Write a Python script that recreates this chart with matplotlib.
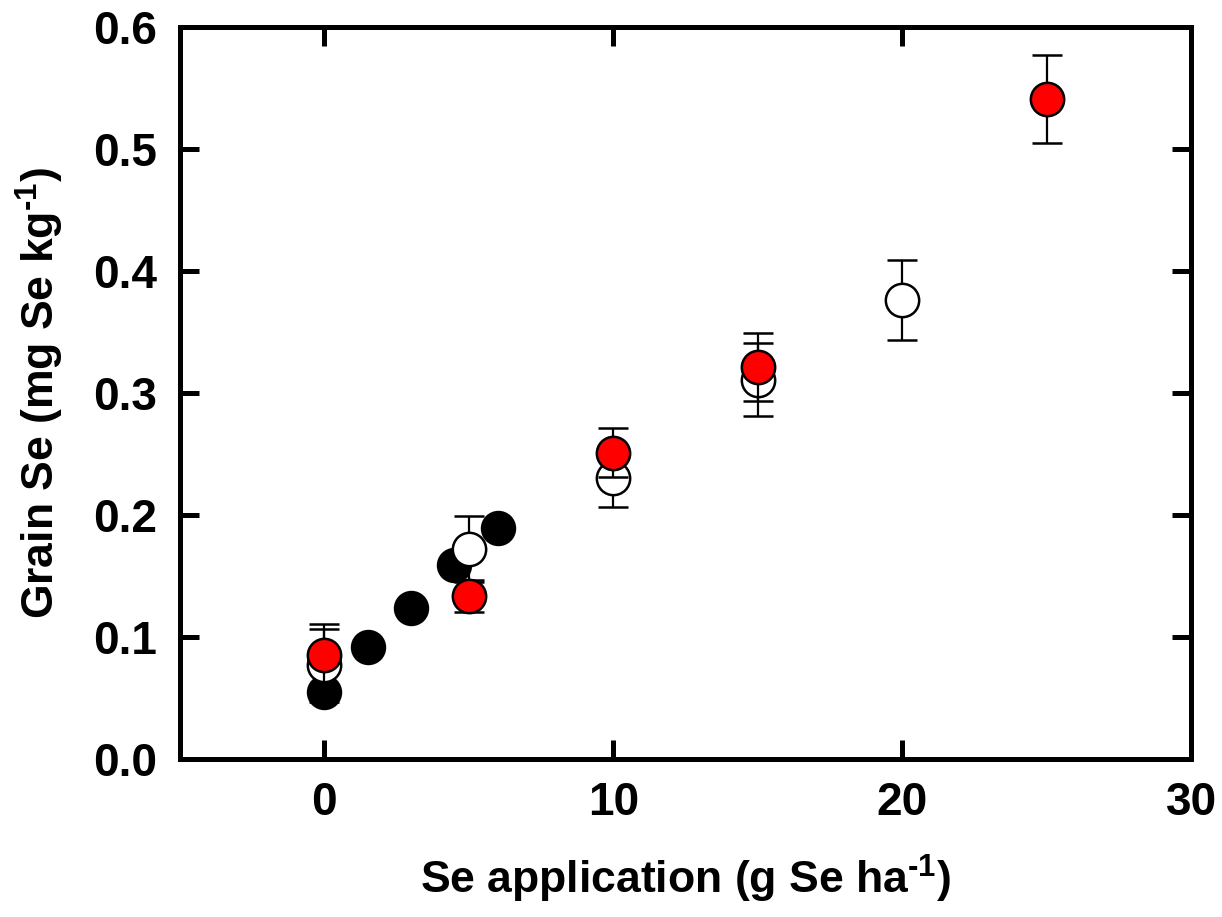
import matplotlib
matplotlib.use('Agg')
import matplotlib.pyplot as plt

plt.rcParams['font.family'] = ['Liberation Sans', 'DejaVu Sans']
plt.rcParams['font.weight'] = 'bold'
plt.rcParams['mathtext.fontset'] = 'custom'
plt.rcParams['mathtext.rm'] = 'Liberation Sans:bold'
plt.rcParams['mathtext.bf'] = 'Liberation Sans:bold'
plt.rcParams['mathtext.default'] = 'bf'

# black filled circles (no error bars)
x_black = [0, 1.5, 3, 4.5, 6]
y_black = [0.055, 0.092, 0.124, 0.159, 0.189]

# open circles
x_open = [0, 5, 10, 15, 20]
y_open = [0.077, 0.172, 0.230, 0.311, 0.376]
e_open = [0.030, 0.027, 0.023, 0.030, 0.033]

# red circles
x_red = [0, 5, 10, 15, 25]
y_red = [0.085, 0.134, 0.251, 0.321, 0.541]
e_red = [0.026, 0.013, 0.020, 0.028, 0.036]

x_ticks = [0, 10, 20, 30]
y_ticks = [0.0, 0.1, 0.2, 0.3, 0.4, 0.5, 0.6]

fig = plt.figure(figsize=(12.22, 9.17), dpi=100)
ax = fig.add_axes([0.147, 0.172, 0.828, 0.799])

ms = 24
ax.plot(x_black, y_black, 'o', ms=ms, mfc='black', mec='black', mew=1.5, zorder=3)
ax.errorbar(x_open, y_open, yerr=e_open, fmt='o', ms=ms, mfc='white', mec='black',
            mew=1.8, ecolor='black', elinewidth=1.6, capsize=11, capthick=1.6, zorder=4)
ax.errorbar(x_red, y_red, yerr=e_red, fmt='o', ms=ms, mfc='red', mec='black',
            mew=1.8, ecolor='black', elinewidth=1.6, capsize=11, capthick=1.6, zorder=5)

ax.set_xlim(-5, 30)
ax.set_ylim(0, 0.6)
ax.set_xticks(x_ticks)
ax.set_yticks(y_ticks)
ax.set_yticklabels(['%.1f' % v for v in y_ticks])

for s in ax.spines.values():
    s.set_linewidth(3.6)
ax.tick_params(direction='in', length=14, width=3.6, top=True, right=True,
               labelsize=33, pad=16)

ax.set_xlabel(r'Se application (g Se ha$^{\text{-}1}$)', fontsize=32, fontweight='bold', labelpad=20)
ax.set_ylabel(r'Grain Se (mg Se kg$^{\text{-}1}$)', fontsize=32, fontweight='bold', labelpad=20)

fig.savefig('out.png', dpi=100)
